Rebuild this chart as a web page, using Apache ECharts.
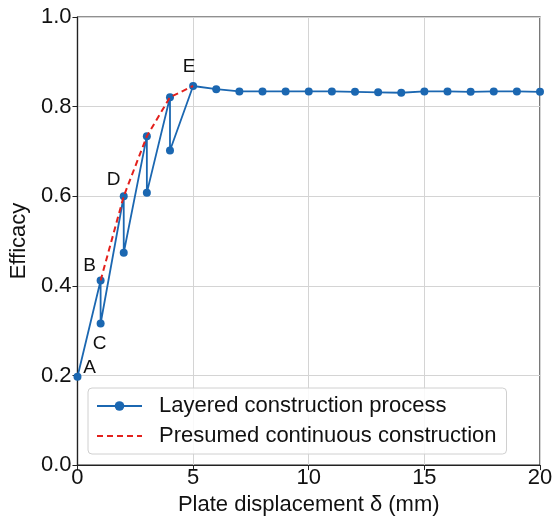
<!DOCTYPE html>
<html>
<head>
<meta charset="utf-8">
<script src="https://cdn.jsdelivr.net/npm/echarts@6/dist/echarts.min.js"></script>
<style>html,body{margin:0;padding:0;background:#fff}#chart{width:558px;height:521px}</style>
</head>
<body>
<div id="chart"></div>
<script>
// Layered construction: each step recorded at the plate displacement (mm)
const layeredX = [0, 1, 1, 2, 2, 3, 3, 4, 4, 5, 6, 7, 8, 9, 10, 11, 12, 13, 14, 15, 16, 17, 18, 19, 20];
const layeredY = [0.197, 0.412, 0.316, 0.600, 0.474, 0.734, 0.608, 0.821, 0.702, 0.846, 0.839, 0.834, 0.834, 0.834, 0.834, 0.834, 0.833, 0.832, 0.831, 0.834, 0.834, 0.833, 0.834, 0.834, 0.833];
// Point letters along the layered curve (index -> letter)
const pointNames = {0: 'A', 1: 'B', 2: 'C', 3: 'D', 9: 'E'};
// Presumed continuous construction envelope
const continuousX = [1, 2, 3, 4, 5];
const continuousY = [0.412, 0.600, 0.734, 0.821, 0.846];

const letterOffsets = {A: [12, -9], B: [-11, -15], C: [-1, 20], D: [-10, -16], E: [-4, -19]};
const FONT = 'Liberation Sans, Arial, sans-serif';
const BLUE = '#1b67b1';
const RED = '#e3201c';

const layeredData = layeredX.map((x, i) => {
  const item = {value: [x, layeredY[i]]};
  const name = pointNames[i];
  if (name) {
    item.label = {show: true, formatter: name, position: 'inside', offset: letterOffsets[name],
      color: '#111', fontSize: 19, fontFamily: FONT};
  }
  return item;
});

const chart = echarts.init(document.getElementById('chart'));
chart.setOption({
  animation: false,
  backgroundColor: '#fff',
  grid: {left: 76, right: 18, top: 17, bottom: 52, show: true, borderColor: '#222', borderWidth: 1.2},
  xAxis: {
    type: 'value', min: 0, max: 20, interval: 5,
    name: 'Plate displacement δ (mm)', nameLocation: 'middle', nameGap: 24,
    nameTextStyle: {fontSize: 22, color: '#111', fontFamily: FONT},
    axisLine: {lineStyle: {color: '#222', width: 1.2}},
    axisTick: {show: true, length: 5, lineStyle: {color: '#222'}},
    axisLabel: {fontSize: 22, color: '#111', fontFamily: FONT, margin: 2},
    splitLine: {show: true, lineStyle: {color: '#d4d4d4', width: 1}}
  },
  yAxis: {
    type: 'value', min: 0, max: 1, interval: 0.2,
    name: 'Efficacy', nameLocation: 'middle', nameGap: 40,
    nameTextStyle: {fontSize: 22, color: '#111', fontFamily: FONT},
    axisLine: {lineStyle: {color: '#222', width: 1.2}},
    axisTick: {show: true, length: 5, lineStyle: {color: '#222'}},
    axisLabel: {fontSize: 22, color: '#111', fontFamily: FONT, margin: 6,
      formatter: v => v.toFixed(1)},
    splitLine: {show: true, lineStyle: {color: '#d4d4d4', width: 1}}
  },
  legend: {
    orient: 'vertical', left: 88, top: 388, width: 417,
    padding: [7, 10, 7, 8],
    itemWidth: 45, itemHeight: 12, itemGap: 8,
    backgroundColor: 'rgba(255,255,255,0.85)', borderColor: '#d0d0d0', borderWidth: 1, borderRadius: 4,
    textStyle: {fontSize: 22, color: '#111', fontFamily: FONT, padding: [0, 0, 0, 12]},
    data: [
      {name: 'Layered construction process'},
      {name: 'Presumed continuous construction', itemStyle: {opacity: 0}}
    ]
  },
  series: [
    {
      name: 'Presumed continuous construction', type: 'line',
      data: continuousX.map((x, i) => [x, continuousY[i]]),
      showSymbol: false, symbol: 'none',
      lineStyle: {color: RED, width: 2, type: [6, 4]},
      itemStyle: {color: RED}, z: 3
    },
    {
      name: 'Layered construction process', type: 'line',
      data: layeredData,
      symbol: 'circle', symbolSize: 8,
      lineStyle: {color: BLUE, width: 1.8},
      itemStyle: {color: BLUE}, z: 2
    }
  ]
});
</script>
</body>
</html>
